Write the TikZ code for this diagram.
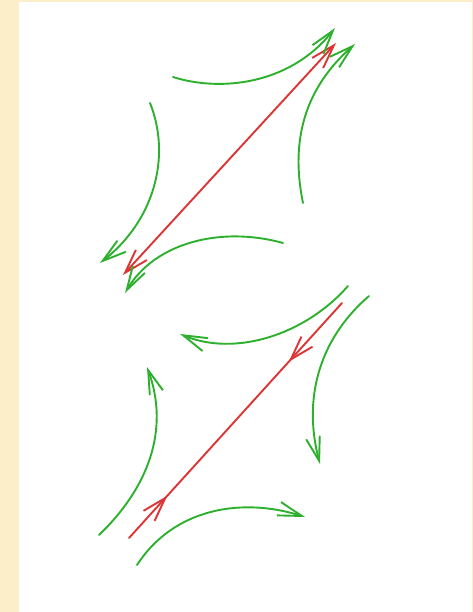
\documentclass[tikz,border=0pt]{standalone}
\usepackage{tikz}
\usetikzlibrary{arrows.meta, decorations.markings}
\definecolor{flow}{HTML}{2DB02D}
\definecolor{sep}{HTML}{DD3535}
\definecolor{frame}{HTML}{FCEEC8}

\begin{document}
\begin{tikzpicture}[
    x=1pt, y=-1pt,
    barb/.style={line width=1.9pt, line cap=round},
    orbit/.style={barb, draw=flow, -{Straight Barb[length=24pt, width=14pt]}},
    sepline/.style={barb, draw=sep},
    midtips/.style={
      postaction={decorate},
      decoration={markings,
        mark=at position 0.18 with {\arrow{Straight Barb[length=24pt, width=15pt]}},
        mark=at position 0.75 with {\arrowreversed{Straight Barb[length=24pt, width=15pt]}}}
    }
]
  \fill[frame] (0,0) rectangle (473,612);
  \fill[white] (19,2) rectangle (471.5,612);

  % upper saddle
  \coordinate (uSW) at (123,275);
  \coordinate (uNE) at (336,43);
  \coordinate (uTopA) at (173,77);
  \coordinate (uTopB) at (335,28);
  \coordinate (uRgtA) at (303,203);
  \coordinate (uRgtB) at (355,44);
  \coordinate (uLftA) at (150,103);
  \coordinate (uLftB) at (100,263);
  \coordinate (uBotA) at (283,243);
  \coordinate (uBotB) at (125,293);

  \draw[sepline, {Straight Barb[length=24pt, width=15pt]}-{Straight Barb[length=24pt, width=15pt]}] (uSW) -- (uNE);
  \draw[orbit] (uTopA) .. controls (220,92) and (290,85) .. (uTopB);
  \draw[orbit] (uRgtA) .. controls (290,140) and (305,88) .. (uRgtB);
  \draw[orbit] (uLftA) .. controls (172,158) and (153,222) .. (uLftB);
  \draw[orbit] (uBotA) .. controls (222,226) and (155,242) .. (uBotB);

  % lower saddle
  \coordinate (lSW) at (129,538);
  \coordinate (lNE) at (342,303);
  \coordinate (lTopA) at (348,286);
  \coordinate (lTopB) at (180,334);
  \coordinate (lRgtA) at (369,296);
  \coordinate (lRgtB) at (320,464);
  \coordinate (lLftA) at (99,535);
  \coordinate (lLftB) at (147,367);
  \coordinate (lBotA) at (137,565);
  \coordinate (lBotB) at (305,517);

  \draw[sepline, midtips] (lSW) -- (lNE);
  \draw[orbit] (lTopA) .. controls (305,335) and (235,357) .. (lTopB);
  \draw[orbit] (lRgtA) .. controls (318,340) and (303,400) .. (lRgtB);
  \draw[orbit] (lLftA) .. controls (148,488) and (170,430) .. (lLftB);
  \draw[orbit] (lBotA) .. controls (174,508) and (242,497) .. (lBotB);
\end{tikzpicture}
\end{document}
